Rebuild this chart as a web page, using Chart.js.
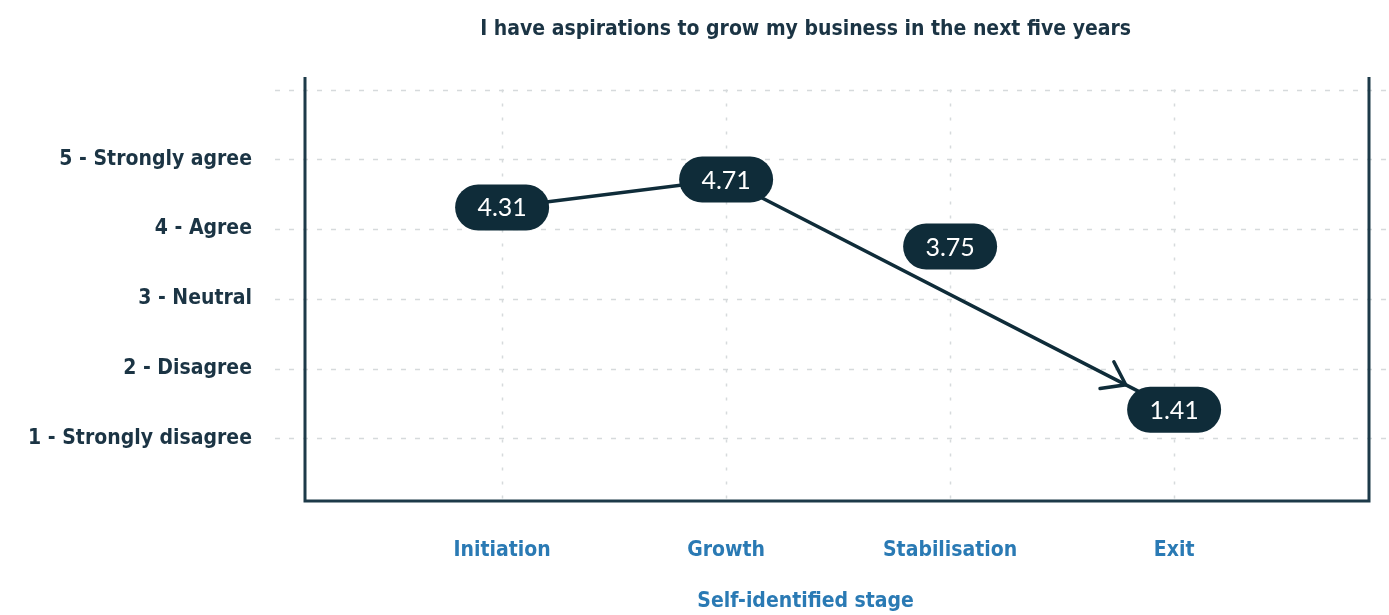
<!DOCTYPE html>
<html>
<head>
<meta charset="utf-8">
<script src="https://cdn.jsdelivr.net/npm/chart.js@4.4.1/dist/chart.umd.min.js"></script>
<style>
  html, body { margin: 0; padding: 0; background: #ffffff; }
  #wrap { width: 1389px; height: 615px; }
</style>
</head>
<body>
<div id="wrap"><canvas id="plot" width="1389" height="615"></canvas></div>
<script>
// survey answers per stage
var stages = ['Initiation', 'Growth', 'Stabilisation', 'Exit'];
var meanScores = [4.31, 4.71, 3.75, 1.41];
var onArrow = [true, true, false, true];
var agreementLabels = ['1 - Strongly disagree', '2 - Disagree', '3 - Neutral', '4 - Agree', '5 - Strongly agree'];
var chartTitle = 'I have aspirations to grow my business in the next five years';
var xAxisTitle = 'Self-identified stage';

var navy = '#0f2c39';
var axisFont = '"Liberation Sans Narrow", "DejaVu Sans Condensed", "Roboto", sans-serif';

var arrowPoints = [];
var badgePoints = [];
for (var i = 0; i < stages.length; i++) {
    badgePoints.push({ x: i + 1, y: meanScores[i] });
    if (onArrow[i]) arrowPoints.push({ x: i + 1, y: meanScores[i] });
}

// dashed grid that runs past the frame, plus the open-top frame itself
var gridAndFrame = {
    id: 'gridAndFrame',
    beforeDatasetsDraw: function (chart) {
        var ctx = chart.ctx, a = chart.chartArea;
        var xs = chart.scales.x, ys = chart.scales.y;
        ctx.save();
        ctx.strokeStyle = '#d6dadc';
        ctx.lineWidth = 1.5;
        ctx.setLineDash([5, 9]);
        for (var v = 1; v <= 6; v++) {
            var y = Math.round(ys.getPixelForValue(v)) + 0.5;
            ctx.beginPath();
            ctx.moveTo(a.left - 30, y);
            ctx.lineTo(chart.width, y);
            ctx.stroke();
        }
        ctx.setLineDash([3, 11]);
        for (var k = 1; k <= stages.length; k++) {
            var x = Math.round(xs.getPixelForValue(k)) + 0.5;
            ctx.beginPath();
            ctx.moveTo(x, ys.getPixelForValue(6));
            ctx.lineTo(x, a.bottom);
            ctx.stroke();
        }
        ctx.setLineDash([]);
        ctx.strokeStyle = '#1d3a49';
        ctx.lineWidth = 3;
        ctx.beginPath();
        ctx.moveTo(a.left, a.top);
        ctx.lineTo(a.left, a.bottom);
        ctx.lineTo(a.right, a.bottom);
        ctx.lineTo(a.right, a.top);
        ctx.stroke();
        ctx.restore();
    }
};

// rounded value badges and the arrow head at the last point
var badges = {
    id: 'badges',
    afterDatasetsDraw: function (chart) {
        var ctx = chart.ctx;
        var line = chart.getDatasetMeta(0).data;
        var pts = chart.getDatasetMeta(1).data;
        var bw = 94, bh = 46;
        ctx.save();

        var p0 = line[line.length - 2], p1 = line[line.length - 1];
        var dx = p1.x - p0.x, dy = p1.y - p0.y;
        var len = Math.sqrt(dx * dx + dy * dy);
        var ux = dx / len, uy = dy / len;
        var s = Math.min((bw / 2) / Math.abs(ux), (bh / 2) / Math.abs(uy)) + 4;
        var tx = p1.x - ux * s, ty = p1.y - uy * s;
        var ang = Math.atan2(uy, ux);
        ctx.strokeStyle = navy;
        ctx.lineWidth = 3.5;
        ctx.lineCap = 'round';
        ctx.beginPath();
        ctx.moveTo(tx - 26 * Math.cos(ang - 0.62), ty - 26 * Math.sin(ang - 0.62));
        ctx.lineTo(tx, ty);
        ctx.lineTo(tx - 26 * Math.cos(ang + 0.62), ty - 26 * Math.sin(ang + 0.62));
        ctx.stroke();

        ctx.font = '25px "Lato", "DejaVu Sans", sans-serif';
        ctx.textAlign = 'center';
        ctx.textBaseline = 'middle';
        for (var i = 0; i < pts.length; i++) {
            var p = pts[i];
            ctx.fillStyle = navy;
            ctx.beginPath();
            ctx.roundRect(p.x - bw / 2, p.y - bh / 2, bw, bh, bh / 2);
            ctx.fill();
            ctx.fillStyle = '#ffffff';
            ctx.fillText(meanScores[i].toFixed(2), p.x, p.y + 1);
        }
        ctx.restore();
    }
};

var titles = {
    id: 'titles',
    afterDraw: function (chart) {
        var ctx = chart.ctx;
        var cx = chart.width * 0.58;
        ctx.save();
        ctx.textAlign = 'center';
        ctx.textBaseline = 'middle';
        ctx.font = 'bold 21px ' + axisFont;
        ctx.fillStyle = '#1b3444';
        ctx.fillText(chartTitle, cx, 30);
        ctx.fillStyle = '#2a7ab4';
        ctx.fillText(xAxisTitle, cx, 602);
        ctx.restore();
    }
};

var ctx = document.getElementById('plot').getContext('2d');
var chart = new Chart(ctx, {
    type: 'scatter',
    data: {
        datasets: [{
            data: arrowPoints,
            showLine: true,
            borderColor: navy,
            borderWidth: 3.5,
            pointRadius: 0,
            fill: false
        }, {
            data: badgePoints,
            showLine: false,
            pointRadius: 0
        }]
    },
    options: {
        responsive: false,
        animation: false,
        layout: { padding: { top: 77, right: 20, left: 0, bottom: 0 } },
        plugins: {
            legend: { display: false },
            tooltip: { enabled: false }
        },
        scales: {
            x: {
                type: 'linear',
                min: 0.12,
                max: 4.87,
                grid: { display: false, drawTicks: false },
                border: { display: false },
                afterBuildTicks: function (scale) {
                    scale.ticks = stages.map(function (s, i) { return { value: i + 1 }; });
                },
                afterFit: function (scale) { scale.height = 114; },
                ticks: {
                    padding: 37,
                    color: '#2a7ab4',
                    font: { family: axisFont, size: 21, weight: 'bold' },
                    callback: function (v) { return stages[v - 1]; }
                }
            },
            y: {
                min: 0.1,
                max: 6.18,
                grid: { display: false, drawTicks: false },
                border: { display: false },
                afterBuildTicks: function (scale) {
                    scale.ticks = agreementLabels.map(function (s, i) { return { value: i + 1 }; });
                },
                afterFit: function (scale) { scale.width = 305; },
                ticks: {
                    padding: 53,
                    color: '#1b3444',
                    font: { family: axisFont, size: 21, weight: 'bold' },
                    callback: function (v) { return agreementLabels[v - 1]; }
                }
            }
        }
    },
    plugins: [gridAndFrame, badges, titles]
});
</script>
</body>
</html>
